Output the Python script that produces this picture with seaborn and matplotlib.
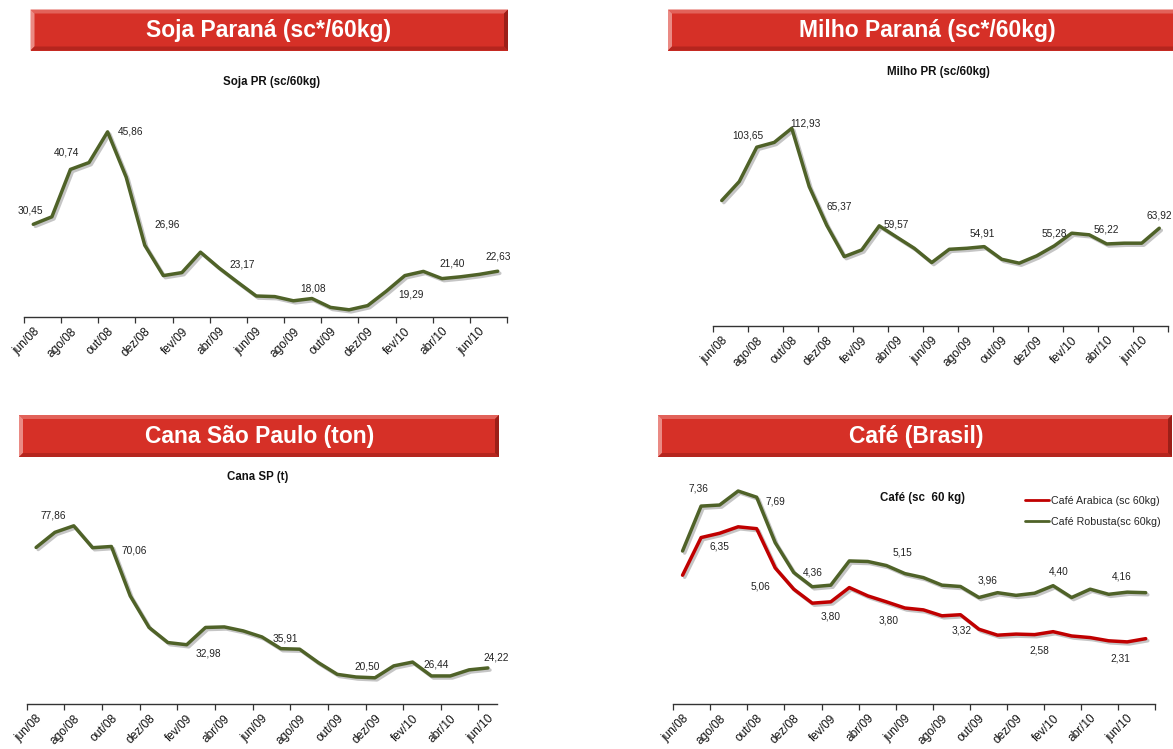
import matplotlib
matplotlib.use("Agg")
import matplotlib.pyplot as plt
import matplotlib.patheffects as pe
from matplotlib.patches import Polygon, Rectangle
import pandas as pd
import seaborn as sns

# ---- data ----
months = ["jun/08", "jul/08", "ago/08", "set/08", "out/08", "nov/08", "dez/08",
          "jan/09", "fev/09", "mar/09", "abr/09", "mai/09", "jun/09", "jul/09",
          "ago/09", "set/09", "out/09", "nov/09", "dez/09", "jan/10", "fev/10",
          "mar/10", "abr/10", "mai/10", "jun/10", "jul/10"]

soja = [30.45, 31.7, 39.6, 40.74, 45.86, 38.3, 26.96, 21.9, 22.4, 25.8, 23.17,
        20.8, 18.5, 18.4, 17.7, 18.08, 16.6, 16.2, 16.9, 19.29, 21.9, 22.6,
        21.40, 21.7, 22.1, 22.63]
soja_labels = [0, 3, 4, 6, 10, 15, 19, 22, 25]

milho = [77.5, 86.8, 103.65, 106.0, 112.93, 84.3, 65.37, 50.0, 53.3, 65.1, 59.57,
         54.1, 47.1, 53.6, 54.1, 54.91, 48.7, 46.8, 50.4, 55.28, 61.5, 60.7,
         56.22, 56.6, 56.6, 63.92]
milho_labels = [2, 4, 6, 10, 15, 19, 22, 25]

cana_months = months[:25]
cana = [69.7, 75.4, 77.86, 69.6, 70.06, 51.4, 39.5, 33.8, 32.98, 39.5, 39.7,
        38.2, 35.91, 31.5, 31.3, 26.2, 21.8, 20.8, 20.50, 25.0, 26.44, 21.2,
        21.2, 23.5, 24.22]
cana_labels = [2, 4, 8, 12, 18, 20, 24]

cafe_arabica = [4.79, 6.19, 6.35, 6.59, 6.52, 5.06, 4.27, 3.75, 3.80, 4.33, 4.02,
                3.80, 3.57, 3.50, 3.28, 3.32, 2.78, 2.56, 2.60, 2.58, 2.69, 2.53,
                2.47, 2.35, 2.31, 2.43]
cafe_robusta = [5.69, 7.36, 7.40, 7.92, 7.69, 6.00, 4.89, 4.36, 4.42, 5.32, 5.30,
                5.15, 4.85, 4.70, 4.42, 4.37, 3.96, 4.14, 4.04, 4.12, 4.40, 3.96,
                4.27, 4.08, 4.16, 4.14]
arabica_labels = [2, 5, 8, 11, 15, 19, 24]
robusta_labels = [1, 4, 7, 11, 16, 20, 24]

# ---- style ----
W, H = 1173, 749
GREEN = "#4F6228"
RED = "#C00000"
sns.set_theme(style="white")
plt.rcParams["font.family"] = ["Liberation Sans", "DejaVu Sans"]

fig = plt.figure(figsize=(W / 100, H / 100), dpi=100)
bg = fig.add_axes([0, 0, 1, 1], zorder=-1)
bg.set_xlim(0, W)
bg.set_ylim(H, 0)
bg.axis("off")


def px_rect(x0, y0, x1, y1):
    return [x0 / W, 1 - y1 / H, (x1 - x0) / W, (y1 - y0) / H]


def banner(x0, y0, x1, y1, text, tx):
    b = 4
    bg.add_patch(Rectangle((x0, y0), x1 - x0, y1 - y0, color="#D63027", lw=0))
    bg.add_patch(Polygon([(x0, y0), (x1, y0), (x1 - b, y0 + b), (x0 + b, y0 + b)],
                         color="#E2625A", lw=0))
    bg.add_patch(Polygon([(x0, y0), (x0 + b, y0 + b), (x0 + b, y1 - b), (x0, y1)],
                         color="#EA8A84", lw=0))
    bg.add_patch(Polygon([(x0, y1), (x0 + b, y1 - b), (x1 - b, y1 - b), (x1, y1)],
                         color="#B5251E", lw=0))
    bg.add_patch(Polygon([(x1, y0), (x1, y1), (x1 - b, y1 - b), (x1 - b, y0 + b)],
                         color="#9C1F18", lw=0))
    bg.text(tx, (y0 + y1) / 2 + 1, text, color="white", fontsize=16.5,
            fontweight="bold", ha="center", va="center")


banner(30.5, 9.5, 508, 50.5, "Soja Paraná (sc*/60kg)", 269)
banner(668, 9.5, 1186, 50.5, "Milho Paraná (sc*/60kg)", 927)
banner(19, 415, 499, 457, "Cana São Paulo (ton)", 260)
banner(658, 415, 1172, 457, "Café (Brasil)", 916)

for x, y, t in [(272, 82, "Soja PR (sc/60kg)"), (938, 72, "Milho PR (sc/60kg)"),
                (258, 477, "Cana SP (t)"), (923, 498, "Café (sc  60 kg)")]:
    bg.text(x, y, t, fontsize=8.3, fontweight="bold", ha="center", va="center",
            color="#111111")


def setup_axis(ax, cats, ylim):
    n = len(cats)
    ax.set_xlim(-0.5, n - 0.5)
    ax.set_ylim(*ylim)
    for s in ["left", "top", "right"]:
        ax.spines[s].set_visible(False)
    ax.spines["bottom"].set_color("#333333")
    ax.spines["bottom"].set_linewidth(1.0)
    ax.set_yticks([])
    ax.set_xticks(list(range(0, n, 2)))
    ax.set_xticklabels(cats[0::2], rotation=45, ha="right", va="top",
                       rotation_mode="anchor", fontsize=8.6, color="#111111")
    ax.set_xticks([i - 0.5 for i in range(0, n + 1, 2)], minor=True)
    ax.tick_params(axis="x", which="major", length=0, pad=6)
    ax.tick_params(axis="x", which="minor", length=4, width=0.9,
                   color="#333333", direction="out", bottom=True)
    ax.set_xlabel("")
    ax.set_ylabel("")
    ax.patch.set_alpha(0)


def draw_line(ax, cats, vals, color, name=None):
    df = pd.DataFrame({"mes": cats, "valor": vals})
    sns.lineplot(data=df, x="mes", y="valor", ax=ax, color=color, lw=2.5,
                 sort=False, label=name, legend=False)
    line = ax.lines[-1]
    line.set_solid_joinstyle("round")
    line.set_solid_capstyle("round")
    line.set_path_effects([pe.SimpleLineShadow(offset=(1.5, -1.5), alpha=0.25),
                           pe.Normal()])


def label_points(ax, vals, idx, offsets):
    for i, (dx, dy) in zip(idx, offsets):
        ax.annotate(f"{vals[i]:.2f}".replace(".", ","), xy=(i, vals[i]),
                    xytext=(dx, dy), textcoords="offset pixels", ha="center",
                    va="center", fontsize=7.3, color="#222222")


# Soja
ax1 = fig.add_axes(px_rect(24, 107, 507, 317))
draw_line(ax1, months, soja, GREEN)
setup_axis(ax1, months, (15, 50))
label_points(ax1, soja, soja_labels,
             [(-3, 14), (-23, 10), (23, 0), (22, 21), (23, 3), (1, 10),
              (25, -3), (10, 15), (0, 15)])

# Milho
ax2 = fig.add_axes(px_rect(713, 101.6, 1168, 326))
draw_line(ax2, months, milho, GREEN)
setup_axis(ax2, months, (16, 126))
label_points(ax2, milho, milho_labels,
             [(-9, 12), (14, 5), (13, 19), (0, 13), (-2, 13), (0, 12),
              (0, 14), (0, 13)])

# Cana
ax3 = fig.add_axes(px_rect(26.7, 491, 497.3, 704.3))
draw_line(ax3, cana_months, cana, GREEN)
setup_axis(ax3, cana_months, (10.5, 91))
label_points(ax3, cana, cana_labels,
             [(-20, 10), (23, -4), (22, -9), (23, -2), (-8, 11), (24, -2),
              (8, 10)])

# Café
ax4 = fig.add_axes(px_rect(673.3, 462, 1155, 704))
draw_line(ax4, months, cafe_arabica, RED, "Café Arabica (sc 60kg)")
draw_line(ax4, months, cafe_robusta, GREEN, "Café Robusta(sc 60kg)")
setup_axis(ax4, months, (0, 9))
label_points(ax4, cafe_arabica, arabica_labels,
             [(0, -13), (-15, -19), (0, -15), (2, -19), (1, -16), (5, -16),
              (-7, -17)])
label_points(ax4, cafe_robusta, robusta_labels,
             [(-3, 18), (19, -4), (0, 14), (16, 13), (9, 17), (6, 14), (-6, 16)])
handles = ax4.lines[:2]
leg = ax4.legend(handles=handles, labels=[h.get_label() for h in handles],
                 loc="upper left", bbox_to_anchor=(1025 / W, 1 - 496 / H),
                 bbox_transform=fig.transFigure, frameon=False, fontsize=7.7,
                 handlelength=2.2, handletextpad=0.2, labelspacing=1.0,
                 borderpad=0, borderaxespad=0)
for h in leg.legend_handles:
    h.set_linewidth(2)
    h.set_path_effects([])

fig.savefig("out.png", dpi=100)
